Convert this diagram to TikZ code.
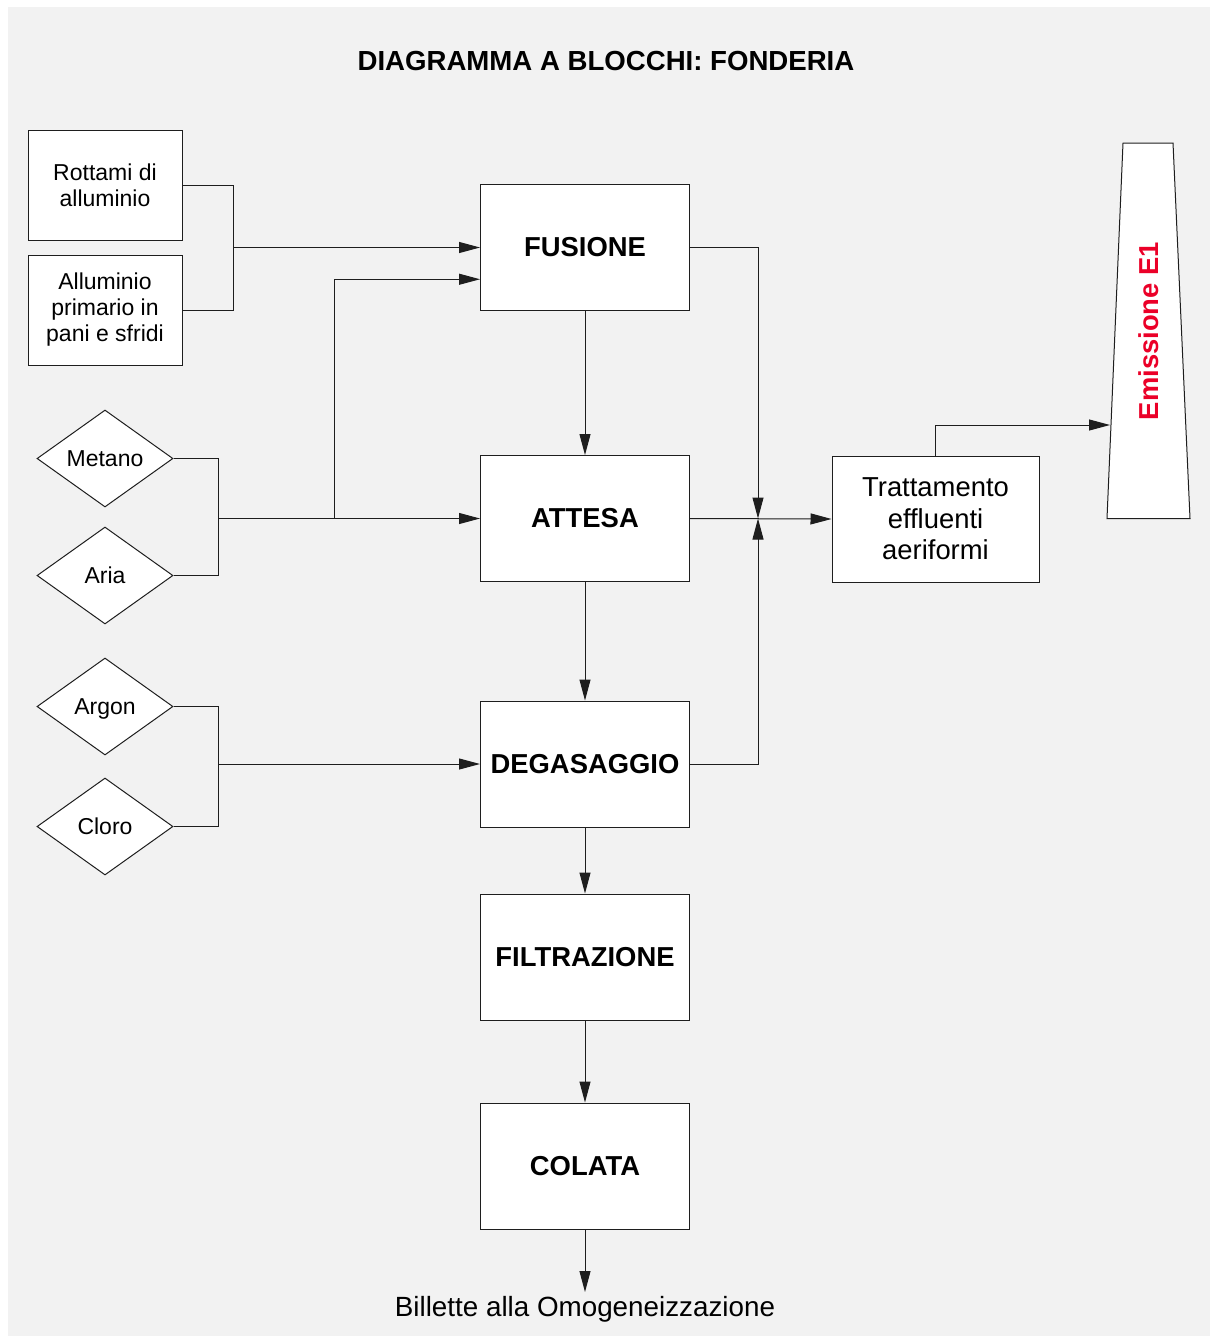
\documentclass[tikz,border=0pt]{standalone}
\usepackage{fontspec}
\setmainfont{Liberation Sans}
\usetikzlibrary{arrows.meta,shapes.geometric,calc}
\definecolor{bgGray}{RGB}{242,242,242}
\definecolor{lineCol}{RGB}{30,30,30}
\definecolor{emRed}{RGB}{235,0,40}
\tikzset{
  arr/.style={-{Triangle[length=21pt,width=11pt]}},
  conn/.style={draw=lineCol,line width=1pt},
  bigbox/.style={draw=lineCol,line width=1pt,fill=white,rectangle,minimum width=209pt,minimum height=126pt,inner sep=0pt,font=\fontsize{27.4}{31}\selectfont\bfseries},
  srcbox/.style={draw=lineCol,line width=1pt,fill=white,rectangle,minimum width=154pt,minimum height=110pt,inner sep=0pt,align=center,font=\fontsize{23}{26}\selectfont},
  gas/.style={draw=lineCol,line width=1pt,fill=white,diamond,aspect=1.4,minimum width=136pt,minimum height=97pt,inner sep=0pt,text height=16.5pt,text depth=0pt,font=\fontsize{23}{26}\selectfont},
}
\begin{document}
\begin{tikzpicture}[x=1pt,y=-1pt]
\useasboundingbox (0,0) rectangle (1210,1336);
\fill[white] (0,0) rectangle (1210,1336);
\fill[bgGray] (8,7) rectangle (1210,1336);

\node[anchor=base,font=\fontsize{27.6}{31}\selectfont\bfseries] (title) at (606,70) {DIAGRAMMA A BLOCCHI: FONDERIA};

% main process boxes
\node[bigbox] (fus) at (585,247.5) {FUSIONE};
\node[bigbox] (att) at (585,518.5) {ATTESA};
\node[bigbox] (deg) at (585,764) {DEGASAGGIO};
\node[bigbox] (fil) at (585,957) {FILTRAZIONE};
\node[bigbox] (col) at (585,1166) {COLATA};

% sources
\node[srcbox] (rot) at (105,185) {Rottami di\\alluminio};
\node[srcbox] (all) at (105,310) {Alluminio\\primario in\\pani e sfridi};

\node[gas] (met) at (105,458.5) {Metano};
\node[gas] (aria) at (105,575.5) {Aria};
\node[gas] (arg) at (105,706.5) {Argon};
\node[gas] (clo) at (105,826.5) {Cloro};

% treatment
\node[draw=lineCol,line width=1pt,fill=white,rectangle,minimum width=207pt,minimum height=126pt,inner sep=0pt,align=center,font=\fontsize{27.4}{31.5}\selectfont] (trat) at (935.5,519) {Trattamento\\effluenti\\aeriformi};

% chimney
\draw[draw=lineCol,line width=1pt,fill=white] (1123,143) -- (1173,143) -- (1190,518.5) -- (1107,518.5) -- cycle;
\node[rotate=90,text=emRed,font=\fontsize{27.4}{31}\selectfont\bfseries] (em) at (1149,331) {Emissione E1};
\coordinate (ch) at (1110,425);

% output
\node[anchor=base,font=\fontsize{27.8}{31}\selectfont] (bil) at (585,1316.5) {Billette alla Omogeneizzazione};
\coordinate (bt) at (585,1292);

% junction coordinates
\coordinate (j1) at (233,247.5);
\coordinate (j2) at (218,518.5);
\coordinate (j3) at (334,518.5);
\coordinate (j4) at (218,764);
\coordinate (jm) at (758,518.5);
\coordinate (f2) at ($(fus.north west)!0.75!(fus.south west)$);

% connectors
\draw[conn] (rot.east) -| (j1);
\draw[conn] (all.east) -| (j1);
\draw[conn,arr] (j1) -- (fus.west);

\draw[conn] (met.east) -| (j2);
\draw[conn] (aria.east) -| (j2);
\draw[conn,arr] (j2) -- (att.west);
\draw[conn,arr] (j3) |- (f2);

\draw[conn] (arg.east) -| (j4);
\draw[conn] (clo.east) -| (j4);
\draw[conn,arr] (j4) -- (deg.west);

\draw[conn,arr] (fus.south) -- (att.north);
\draw[conn,arr] (att.south) -- (deg.north);
\draw[conn,arr] (deg.south) -- (fil.north);
\draw[conn,arr] (fil.south) -- (col.north);
\draw[conn,arr] (col.south) -- (bt);

\draw[conn,arr] (fus.east) -| (jm);
\draw[conn,arr] (deg.east) -| (jm);
\draw[conn,arr] (att.east) -- (trat.west);
\draw[conn,arr] (trat.north) |- (ch);
\end{tikzpicture}
\end{document}
